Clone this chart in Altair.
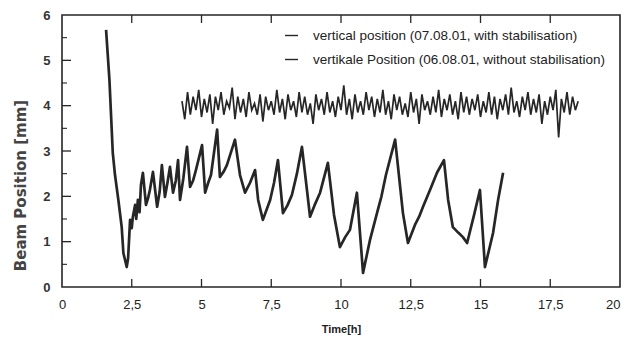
import altair as alt
import pandas as pd

series_names = [
    "vertical position (07.08.01, with stabilisation)",
    "vertikale Position (06.08.01, without stabilisation)",
]

# without stabilisation (06.08.01)
unstab_time = [1.58, 1.70, 1.82, 1.90, 2.02, 2.14, 2.20, 2.32, 2.37, 2.44, 2.50, 2.54, 2.62, 2.66, 2.72, 2.78, 2.83,
               2.90, 3.01, 3.08, 3.15, 3.26, 3.41, 3.50, 3.58, 3.69, 3.78, 3.87, 3.98, 4.08, 4.16, 4.23, 4.35, 4.48, 4.59, 4.70, 4.80,
               5.02, 5.13, 5.24, 5.34, 5.56, 5.66, 5.80, 5.91, 6.20, 6.38, 6.56, 6.74, 6.92, 7.03, 7.20, 7.46, 7.60, 7.74,
               7.92, 8.08, 8.24, 8.42, 8.60, 8.78, 8.89, 9.05, 9.25, 9.53, 9.75, 9.96, 10.15, 10.32, 10.57, 10.79, 11.04,
               11.29, 11.45, 11.61, 11.94, 12.22, 12.40, 12.65, 12.80, 12.94, 13.19, 13.44, 13.69, 13.84, 14.01,
               14.20, 14.37, 14.52, 14.77, 14.98, 15.16, 15.45, 15.63, 15.81]
unstab_pos = [5.67, 4.57, 2.96, 2.47, 1.92, 1.32, 0.75, 0.44, 0.64, 1.48, 1.30, 1.55, 1.81, 1.50, 1.92, 1.65, 2.25,
              2.52, 1.81, 1.95, 2.14, 2.54, 1.77, 2.10, 2.69, 1.99, 2.30, 2.65, 2.08, 2.35, 2.80, 1.92, 2.40, 3.09, 2.21, 2.35, 2.58,
              3.13, 2.08, 2.30, 2.47, 3.47, 2.43, 2.55, 2.69, 3.25, 2.47, 2.08, 2.30, 2.58, 1.92, 1.48, 1.92, 2.30, 2.80,
              1.63, 1.80, 2.03, 2.50, 3.09, 2.14, 1.55, 1.80, 2.08, 2.74, 1.59, 0.88, 1.10, 1.26, 2.08, 0.31, 1.04,
              1.63, 2.00, 2.47, 3.25, 1.63, 0.97, 1.37, 1.55, 1.77, 2.14, 2.52, 2.80, 1.92, 1.32,
              1.20, 1.10, 0.97, 1.59, 2.14, 0.44, 1.19, 1.92, 2.52]

# with stabilisation (07.08.01)
stab_time = [4.3, 4.4, 4.5, 4.6, 4.7, 4.8, 4.9, 5.0, 5.1, 5.2, 5.3, 5.4, 5.5, 5.6, 5.7, 5.8, 5.9,
             6.0, 6.1, 6.2, 6.3, 6.4, 6.5, 6.6, 6.7, 6.8, 6.9, 7.0, 7.1, 7.2, 7.3, 7.4, 7.5, 7.6,
             7.7, 7.8, 7.9, 8.0, 8.1, 8.2, 8.3, 8.4, 8.5, 8.6, 8.7, 8.8, 8.9, 9.0, 9.1, 9.2, 9.3,
             9.4, 9.5, 9.6, 9.7, 9.8, 9.9, 10.0, 10.1, 10.2, 10.3, 10.4, 10.5, 10.6, 10.7, 10.8,
             10.9, 11.0, 11.1, 11.2, 11.3, 11.4, 11.5, 11.6, 11.7, 11.8, 11.9, 12.0, 12.1, 12.2,
             12.3, 12.4, 12.5, 12.6, 12.7, 12.8, 12.9, 13.0, 13.1, 13.2, 13.3, 13.4, 13.5, 13.6,
             13.7, 13.8, 13.9, 14.0, 14.1, 14.2, 14.3, 14.4, 14.5, 14.6, 14.7, 14.8, 14.9, 15.0,
             15.1, 15.2, 15.3, 15.4, 15.5, 15.6, 15.7, 15.8, 15.9, 16.0, 16.1, 16.2, 16.3, 16.4,
             16.5, 16.6, 16.7, 16.8, 16.9, 17.0, 17.1, 17.2, 17.3, 17.4, 17.5, 17.6, 17.7, 17.8,
             17.9, 18.0, 18.1, 18.2, 18.3, 18.4, 18.5]
stab_pos = [4.1, 3.7, 4.3, 3.8, 4.2, 3.9, 4.35, 3.75, 4.15, 3.85, 4.25, 3.6, 4.2, 3.9, 4.3, 3.8, 4.1, 3.95, 4.4, 3.7,
            4.2, 3.85, 4.15, 3.75, 4.3, 3.9, 4.05, 3.8, 4.25, 3.65, 4.2, 3.9, 4.1, 3.8, 4.35, 3.85, 4.15, 3.7, 4.25, 3.9,
            4.1, 3.75, 4.3, 3.85, 4.2, 3.8, 4.05, 3.6, 4.25, 3.9, 4.15, 3.8, 4.3, 3.85, 4.1, 3.75, 4.2, 3.9, 4.45, 3.8,
            4.15, 3.7, 4.25, 3.85, 4.1, 3.8, 4.3, 3.9, 4.2, 3.75, 4.15, 3.85, 4.35, 3.8, 4.1, 3.7, 4.25, 3.9, 4.2, 3.8,
            4.05, 3.75, 4.3, 3.85, 4.15, 3.6, 4.25, 3.9, 4.1, 3.8, 4.2, 3.85, 4.35, 3.75, 4.15, 3.9, 4.25, 3.8, 4.1, 3.7,
            4.3, 3.85, 4.2, 3.8, 4.15, 3.9, 4.25, 3.75, 4.1, 3.85, 4.3, 3.8, 4.2, 3.7, 4.15, 3.9, 4.25, 3.8, 4.4, 3.85,
            4.1, 3.75, 4.2, 3.9, 4.3, 3.8, 4.15, 3.85, 4.25, 3.6, 4.1, 3.8, 4.2, 3.9, 4.35, 3.3, 4.15, 3.85, 4.3, 3.8,
            4.2, 3.9, 4.1]

x_labels = [0, 2.5, 5, 7.5, 10, 12.5, 15, 17.5, 20]
x_ticks = [2.5, 5, 7.5, 10, 12.5, 15, 17.5]
y_labels = [0, 1, 2, 3, 4, 5, 6]
y_major = [1, 2, 3, 4, 5]
y_minor = [0.5, 1.5, 2.5, 3.5, 4.5, 5.5]

W, H = 558, 272
INK = "#262626"

df_stab = pd.DataFrame({"time": stab_time, "pos": stab_pos, "series": series_names[0]})
df_unstab = pd.DataFrame({"time": unstab_time, "pos": unstab_pos, "series": series_names[1]})

x_scale = alt.Scale(domain=[0, 20], nice=False, zero=False)
y_scale = alt.Scale(domain=[0, 6], nice=False)
color_scale = alt.Scale(domain=series_names, range=[INK, INK])

x_enc = alt.X(
    "time:Q", scale=x_scale, title="Time[h]",
    axis=alt.Axis(
        values=x_labels, ticks=False, domain=False, grid=False,
        labelExpr="replace(toString(datum.value), '.', ',')",
        labelAlign=alt.ExprRef(expr="datum.value == 20 ? 'right' : 'center'"),
        labelFont="Liberation Sans", labelFontSize=13, labelColor="#222",
        labelPadding=11, labelFlush=False,
        titleFont="Liberation Sans", titleFontSize=11, titleFontWeight="bold",
        titleColor="#222", titleY=45, titleBaseline="alphabetic",
    ),
)
y_enc = alt.Y(
    "pos:Q", scale=y_scale, title="Beam Position [mm]",
    axis=alt.Axis(
        values=y_labels, ticks=False, domain=False, grid=False,
        labelFont="Liberation Sans", labelFontSize=13, labelFontWeight="bold",
        labelColor="#333", labelPadding=12, labelFlush=False,
        titleFont="DejaVu Sans", titleFontSize=15, titleFontWeight="bold",
        titleColor="#444", titleX=-42, titleY=170, titleAngle=-90,
        titleBaseline="middle", titleAlign="center",
    ),
)
color_enc = alt.Color(
    "series:N", scale=color_scale, sort=series_names,
    legend=alt.Legend(
        title=None, orient="none", legendX=222, legendY=13,
        symbolType="stroke", symbolSize=170, symbolStrokeWidth=1.4,
        symbolStrokeColor=INK,
        labelFont="Liberation Sans", labelFontSize=13.5, labelColor="#222",
        labelOffset=14, rowPadding=10, padding=0, labelLimit=400,
    ),
)

stab_line = alt.Chart(df_stab).mark_line(strokeWidth=1.7).encode(
    x=x_enc, y=y_enc, color=color_enc
)
unstab_line = alt.Chart(df_unstab).mark_line(strokeWidth=2.7, strokeJoin="round").encode(
    x=alt.X("time:Q", scale=x_scale), y=alt.Y("pos:Q", scale=y_scale), color=color_enc
)

df_xt = pd.DataFrame({"time": x_ticks})
df_ymaj = pd.DataFrame({"pos": y_major})
df_ymin = pd.DataFrame({"pos": y_minor})

tick_bottom = alt.Chart(df_xt).mark_rule(color=INK, strokeWidth=1.3).encode(
    x=alt.X("time:Q", scale=x_scale), y=alt.value(H), y2=alt.value(H - 8)
)
tick_top = alt.Chart(df_xt).mark_rule(color=INK, strokeWidth=1.3).encode(
    x=alt.X("time:Q", scale=x_scale), y=alt.value(0), y2=alt.value(8)
)
tick_left_major = alt.Chart(df_ymaj).mark_rule(color=INK, strokeWidth=1.3).encode(
    y=alt.Y("pos:Q", scale=y_scale), x=alt.value(0), x2=alt.value(9)
)
tick_left_minor = alt.Chart(df_ymin).mark_rule(color=INK, strokeWidth=1.1).encode(
    y=alt.Y("pos:Q", scale=y_scale), x=alt.value(0), x2=alt.value(5)
)

chart = alt.layer(
    stab_line, unstab_line, tick_bottom, tick_top, tick_left_major, tick_left_minor
).properties(
    width=W, height=H,
    autosize=alt.AutoSizeParams(type="none"),
    padding={"left": 62, "top": 15, "right": 6, "bottom": 63},
    background="white",
).configure_view(
    stroke=INK, strokeWidth=1.6
)

chart.save("out.html", embed_options={"renderer": "svg", "actions": False})
